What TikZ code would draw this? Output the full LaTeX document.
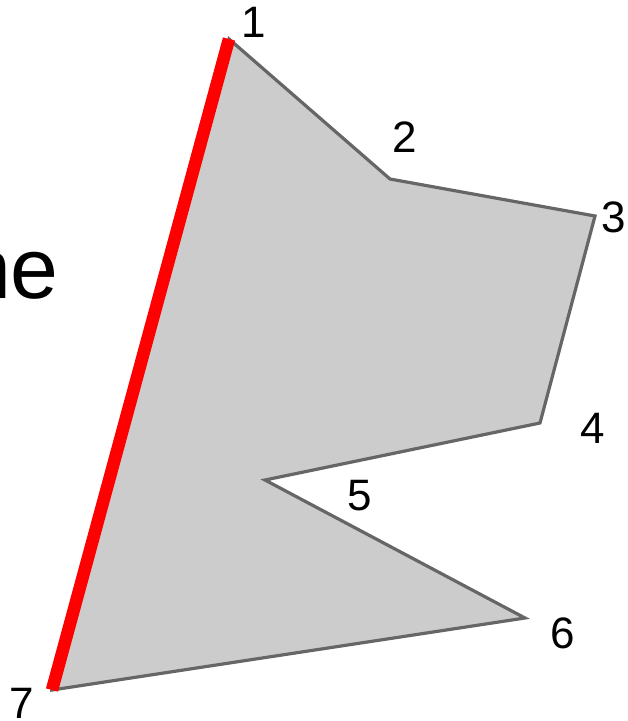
\documentclass[tikz,border=0pt]{standalone}
\usepackage{fontspec}
\setmainfont{Liberation Sans}
\usetikzlibrary{positioning}

\begin{document}
\begin{tikzpicture}[
        x=1pt, y=-1pt,
        poly/.style={fill={rgb,255:red,204;green,204;blue,204}, draw={rgb,255:red,102;green,102;blue,102}, line width=3.2pt, line join=miter},
        edge/.style={draw=red, line width=12.5pt},
        num/.style={font=\fontsize{44}{44}\selectfont, inner sep=0pt}
    ]
        \useasboundingbox (0,0) rectangle (628,721);

        \coordinate (p1) at (229,39);
        \coordinate (p2) at (390,179);
        \coordinate (p3) at (595,216);
        \coordinate (p4) at (540,423);
        \coordinate (p5) at (265,480);
        \coordinate (p6) at (525,618);
        \coordinate (p7) at (52,690);

        \draw[poly] (p1) -- (p2) -- (p3) -- (p4) -- (p5) -- (p6) -- (p7) -- cycle;
        \draw[edge] (p7) -- (p1);

        \node[num] (n1) at (254,22) {1};
        \node[num] (n2) at (405,137) {2};
        \node[num] (n3) at (614,217) {3};
        \node[num] (n4) at (593,428) {4};
        \node[num] (n5) at (360,496) {5};
        \node[num] (n6) at (563,633) {6};
        \node[num] (n7) at (22,703) {7};

        \node[font=\fontsize{86}{86}\selectfont, inner sep=0pt, anchor=base east] (word) at (59,298) {ne};
    \end{tikzpicture}
\end{document}
